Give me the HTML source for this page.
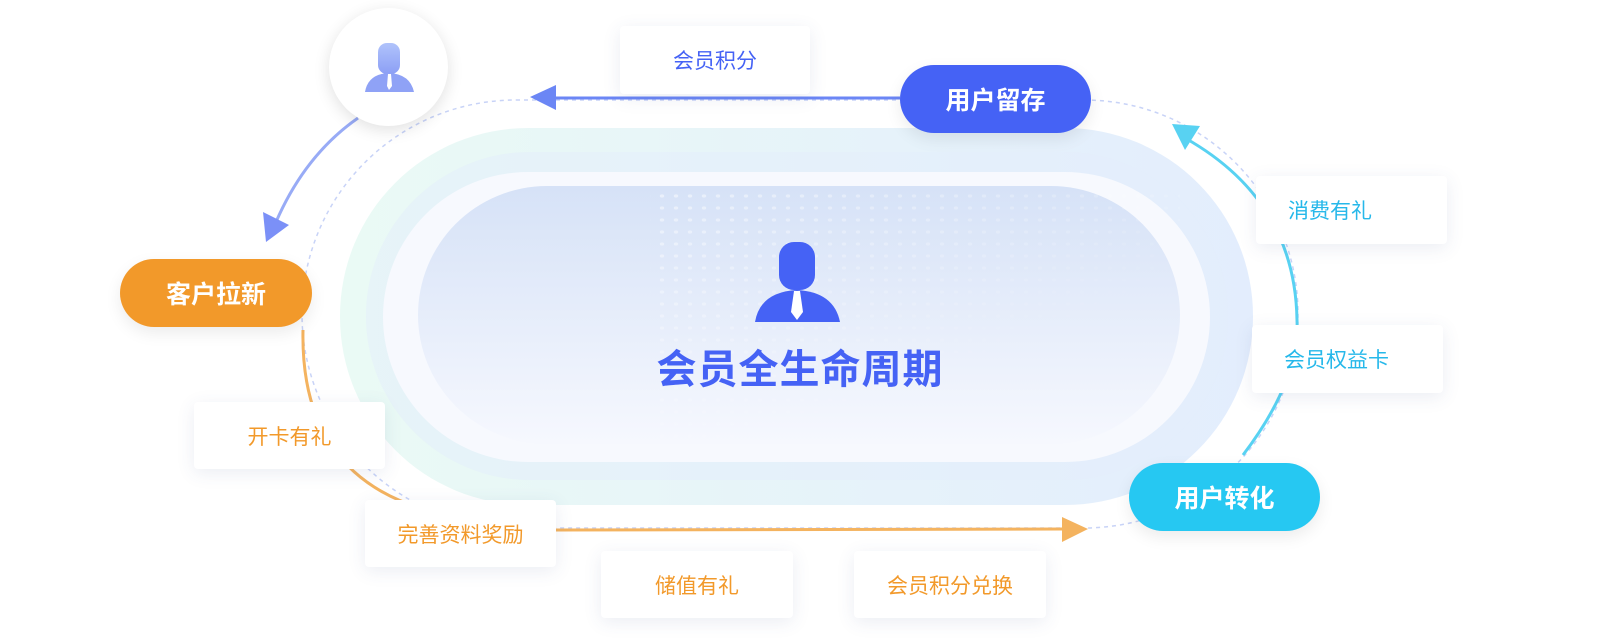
<!DOCTYPE html>
<html><head><meta charset="utf-8"><style>
body{margin:0;width:1600px;height:640px;background:#fff;overflow:hidden;position:relative;font-family:"Liberation Sans","Noto Sans CJK SC",sans-serif}
.card{position:absolute;background:#fff;border-radius:4px;box-shadow:0 4px 18px rgba(60,80,140,0.10);display:flex;align-items:center;justify-content:center;font-size:21px}
.pill{position:absolute;border-radius:34px;color:#fff;font-size:25px;font-weight:bold;display:flex;align-items:center;justify-content:center;box-shadow:0 6px 16px rgba(0,0,0,0.08)}
</style></head><body>
<svg width="1600" height="640" style="position:absolute;left:0;top:0">
<defs>
<linearGradient id="g1" x1="0" x2="1" y1="0" y2="0"><stop offset="0" stop-color="#eafaf5"/><stop offset="1" stop-color="#e3edfd"/></linearGradient>
<linearGradient id="g2" x1="0" x2="0" y1="0" y2="1"><stop offset="0" stop-color="#d6e2f7"/><stop offset="1" stop-color="#f6f8fe"/></linearGradient>
<pattern id="dots" width="14" height="12" patternUnits="userSpaceOnUse"><ellipse cx="4" cy="4" rx="2.2" ry="1.6" fill="#fff" opacity="0.5"/></pattern>
<linearGradient id="fade" x1="0" x2="1" y1="0" y2="1"><stop offset="0" stop-color="#fff" stop-opacity="1"/><stop offset="0.7" stop-color="#fff" stop-opacity="0"/></linearGradient>
<mask id="m"><rect x="650" y="186" width="530" height="258" fill="url(#fade)"/></mask>
</defs>
<rect x="340" y="128" width="913" height="377" rx="188" fill="url(#g1)"/>
<rect x="366" y="152" width="862" height="328" rx="164" fill="#e4eefb" opacity="0.5"/>
<rect x="383" y="172" width="827" height="290" rx="145" fill="#f7f9fe"/>
<rect x="418" y="186" width="762" height="258" rx="129" fill="url(#g2)"/>
<rect x="650" y="186" width="530" height="258" fill="url(#dots)" mask="url(#m)"/>
<rect x="302" y="100" width="996" height="428" rx="214" fill="none" stroke="#c8d3f7" stroke-width="1.5" stroke-dasharray="4 4"/>
<line x1="900" y1="98" x2="550" y2="98" stroke="#6b86f5" stroke-width="3"/>
<polygon points="530,97 556,85 556,110" fill="#6b86f5"/>
<path d="M358,118 Q305,155 276,222" fill="none" stroke="#98abf6" stroke-width="3"/>
<polygon points="266,242 263,212 289,225" fill="#7b90f7"/>
<path d="M303,330 Q300,470 420,508" fill="none" stroke="#f4b35f" stroke-width="3"/>
<line x1="556" y1="530" x2="1065" y2="529" stroke="#f4b35f" stroke-width="3"/>
<polygon points="1088,529 1062,517 1062,542" fill="#f4b35f"/>
<path d="M1243,455 Q1300,380 1297,320 Q1295,200 1185,138" fill="none" stroke="#58d2f2" stroke-width="3"/>
<polygon points="1172,124 1200,126 1185,150" fill="#58d2f2"/>
<g fill="#4562f5">
<rect x="779" y="242" width="36" height="48" rx="15"/>
<path d="M755,322 Q760,292 797,290 Q834,292 840,322 Z"/>
</g>
<polygon points="794,291 800,291 803,312 797,320 791,312" fill="#fff"/>
</svg>
<div style="position:absolute;left:329px;top:8px;width:119px;height:118px;border-radius:50%;background:#fff;box-shadow:0 4px 16px rgba(0,0,0,0.12)"></div>
<svg width="60" height="60" style="position:absolute;left:359px;top:38px">
<defs><linearGradient id="gi" x1="0" x2="0" y1="0" y2="1"><stop offset="0" stop-color="#b0c3fb"/><stop offset="1" stop-color="#8c9ff5"/></linearGradient></defs>
<rect x="19" y="5" width="22" height="31" rx="9" fill="url(#gi)"/>
<path d="M6,54 Q9,36 30,35 Q51,36 55,54 Z" fill="#8fa2f6"/>
<polygon points="29,36 32,36 33,48 30,52 28,48" fill="#fff"/>
</svg>
<div style="position:absolute;left:600px;top:337px;width:400px;text-align:center;font-size:40px;font-weight:bold;color:#4562f5;letter-spacing:1px">会员全生命周期</div>
<div class="pill" style="left:120px;top:259px;width:192px;height:68px;background:#f2992a">客户拉新</div>
<div class="pill" style="left:900px;top:65px;width:191px;height:68px;background:#4562f5">用户留存</div>
<div class="pill" style="left:1129px;top:463px;width:191px;height:68px;background:#26c8f2">用户转化</div>
<div class="card" style="left:620px;top:26px;width:190px;height:68px;color:#4562f5">会员积分</div>
<div class="card" style="left:1256px;top:176px;width:191px;height:68px;color:#26b8ea;justify-content:flex-start;padding-left:32px;box-sizing:border-box">消费有礼</div>
<div class="card" style="left:1252px;top:325px;width:191px;height:68px;color:#26b8ea;justify-content:flex-start;padding-left:32px;box-sizing:border-box">会员权益卡</div>
<div class="card" style="left:194px;top:402px;width:191px;height:67px;color:#f2992a">开卡有礼</div>
<div class="card" style="left:365px;top:500px;width:191px;height:67px;color:#f2992a">完善资料奖励</div>
<div class="card" style="left:601px;top:551px;width:192px;height:67px;color:#f2992a">储值有礼</div>
<div class="card" style="left:854px;top:551px;width:192px;height:67px;color:#f2992a">会员积分兑换</div>
</body></html>
